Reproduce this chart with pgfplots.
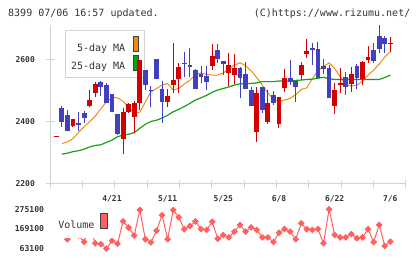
\documentclass[border=0pt]{standalone}
\usepackage{pgfplots}
\usepackage{pgfplotstable}
\pgfplotsset{compat=1.18}
\usepackage{fontspec}
\setmainfont{DejaVu Sans Mono}

\definecolor{upred}{RGB}{212,0,0}
\definecolor{downblue}{RGB}{64,64,192}
\definecolor{maorange}{RGB}{240,140,16}
\definecolor{magreen}{RGB}{20,160,20}
\definecolor{volred}{RGB}{255,96,96}
\definecolor{axisgray}{RGB}{211,211,211}
\definecolor{txt}{RGB}{51,51,51}

% daily candles: index, open, high, low, close
\pgfplotstableread{
i o h l c
0 2352 2355 2352 2355
3 2388 2410 2382 2408
6 2450 2502 2446 2470
7 2493 2528 2478 2520
12 2346 2445 2296 2431
13 2431 2460 2428 2457
14 2416 2466 2363 2461
15 2459 2598 2437 2598
20 2464 2505 2448 2482
21 2518 2653 2493 2534
22 2537 2589 2493 2575
28 2579 2651 2566 2611
31 2557 2620 2514 2582
32 2550 2617 2520 2574
36 2368 2511 2336 2492
38 2400 2502 2394 2460
40 2394 2480 2381 2479
41 2509 2569 2496 2540
44 2550 2591 2534 2582
45 2618 2665 2605 2627
50 2451 2524 2426 2502
51 2519 2572 2492 2524
53 2521 2575 2495 2553
55 2537 2595 2518 2591
56 2598 2643 2588 2607
60 2649 2672 2625 2652
}\upcandles

\pgfplotstableread{
i o h l c
1 2445 2450 2384 2400
2 2421 2437 2371 2371
4 2396 2432 2370 2389
5 2428 2435 2395 2412
8 2527 2530 2482 2513
9 2518 2525 2460 2461
10 2489 2490 2430 2432
11 2425 2425 2358 2360
16 2566 2566 2502 2519
17 2502 2514 2448 2498
18 2601 2601 2538 2538
19 2505 2530 2397 2464
23 2588 2624 2544 2586
24 2582 2636 2544 2575
25 2566 2568 2504 2506
26 2553 2579 2525 2543
27 2547 2579 2502 2527
29 2630 2649 2589 2602
30 2595 2595 2550 2586
33 2572 2575 2477 2541
34 2553 2591 2504 2506
35 2502 2511 2450 2451
37 2511 2512 2429 2439
39 2486 2498 2455 2460
42 2540 2598 2518 2528
43 2530 2531 2463 2511
46 2636 2652 2582 2630
47 2633 2656 2540 2541
48 2579 2601 2553 2570
49 2572 2582 2476 2477
52 2543 2559 2486 2512
54 2579 2585 2505 2540
57 2630 2652 2588 2595
58 2675 2710 2620 2633
59 2668 2675 2620 2649
}\downcandles

\pgfplotstableread{
i v
1 2330
2 2335
3 2346
4 2366
5 2384
6 2400
7 2418
8 2442
9 2464
10 2478
11 2477
12 2466
13 2446
14 2427
15 2431
16 2464
17 2496
18 2507
19 2518
20 2523
21 2502
22 2507
23 2521
24 2534
25 2552
26 2557
27 2552
28 2550
29 2550
30 2557
31 2571
32 2582
33 2590
34 2580
35 2564
36 2542
37 2518
38 2493
39 2473
40 2464
41 2470
42 2475
43 2487
44 2504
45 2509
46 2539
47 2564
48 2578
49 2589
50 2571
51 2544
52 2521
53 2514
54 2518
55 2530
56 2550
57 2566
58 2585
59 2608
60 2625
}\mafive

\pgfplotstableread{
i v
1 2296
2 2299
3 2304
4 2307
5 2312
6 2319
7 2324
8 2326
9 2334
10 2341
11 2352
12 2357
13 2360
14 2365
15 2379
16 2392
17 2401
18 2405
19 2412
20 2421
21 2432
22 2440
23 2449
24 2459
25 2470
26 2477
27 2485
28 2495
29 2502
30 2507
31 2512
32 2518
33 2522
34 2523
35 2523
36 2525
37 2529
38 2529
39 2529
40 2531
41 2531
42 2531
43 2533
44 2534
45 2536
46 2537
47 2540
48 2543
49 2538
50 2536
51 2536
52 2536
53 2536
54 2536
55 2536
56 2536
57 2536
58 2536
59 2542
60 2550
}\matwentyfive

\pgfplotstableread{
i v
0 150000
1 205000
2 113000
3 185000
4 134000
5 100000
6 190000
7 92000
8 88000
9 63100
10 106000
11 90000
12 210000
13 177000
14 134000
15 272000
16 114000
17 97000
18 160000
19 244000
20 114000
21 271000
22 232000
23 168000
24 185000
25 210000
26 169000
27 164000
28 208000
29 117000
30 137000
31 124000
32 155000
33 191000
34 155000
35 178000
36 164000
37 124000
38 124000
39 99000
40 149000
41 169000
42 155000
43 114000
44 200000
45 168000
46 164000
47 169000
48 92000
49 275100
50 137000
51 124000
52 124000
53 142000
54 119000
55 124000
56 168000
57 99000
58 191000
59 78000
60 101000
}\volume

\pgfplotsset{
  chartframe/.style={
    scale only axis, anchor=south west,
    width=355.7bp, xmin=-1.13, xmax=62.76,
  },
  wick/.style={draw=none, mark=none, forget plot,
    error bars/.cd, y dir=plus, y explicit, error mark=none,
    error bar style={draw=#1, line width=1bp}},
  body/.style={draw=none, mark=none, forget plot,
    error bars/.cd, y dir=plus, y explicit, error mark=none,
    error bar style={draw=#1, line width=4.8bp}},
}

\begin{document}
\begin{tikzpicture}
\path[use as bounding box] (0bp,0bp) rectangle (420bp,259bp);

\node[anchor=base west, inner sep=0pt, text=txt, font=\fontsize{10bp}{12bp}\selectfont] at (8bp,242.3bp) {8399 07/06 16:57 updated.};
\node[anchor=base east, inner sep=0pt, text=txt, font=\fontsize{10bp}{12bp}\selectfont] at (410.5bp,242.3bp) {(C)https://www.rizumu.net/};

% moving-average key, set beneath the price panel
\begin{axis}[chartframe, at={(50bp,75bp)}, height=159bp, hide axis,
  ymin=0, ymax=1,
  legend style={at={(0.0422,0.9686)}, anchor=north west,
    draw=axisgray, line width=1bp, fill=white, text=txt,
    font=\fontsize{10bp}{12bp}\selectfont,
    inner xsep=5.5bp, inner ysep=6bp, row sep=1.7bp,
    /tikz/column sep=7.5bp, nodes={inner sep=0pt}},
  legend cell align=right, legend plot pos=right]
\addlegendimage{legend image code/.code={\draw[black!75, line width=0.8bp, fill=maorange] (0bp,-3.5bp) rectangle (5.7bp,11.5bp);}}
\addlegendentry{5-day MA}
\addlegendimage{legend image code/.code={\draw[black!75, line width=0.8bp, fill=magreen] (0bp,-3.5bp) rectangle (5.7bp,11.5bp);}}
\addlegendentry{25-day MA}
\end{axis}

% price panel
\begin{axis}[chartframe, at={(50bp,75bp)}, height=159bp,
  ymin=2200, ymax=2711,
  axis x line*=bottom, axis y line*=left,
  axis line style={draw=axisgray, line width=1bp},
  every tick/.style={draw=axisgray, line width=1bp},
  tick align=center, major tick length=8.5bp,
  xtick={-1.13,4.68,10.49,16.30,22.11,27.92,33.73,39.54,45.35,51.16,56.97,62.76},
  xticklabels={},
  extra x ticks={10,20,30,40,50,60},
  extra x tick labels={4/21,5/11,5/25,6/8,6/22,7/6},
  extra x tick style={major tick length=0pt},
  ytick={2200,2400,2600}, yticklabels={2200,2400,2600},
  /pgf/number format/assume math mode=true,
  tick label style={text=txt, font=\bfseries\fontsize{8bp}{10bp}\selectfont},
  xticklabel style={anchor=north, inner sep=0pt, yshift=-11bp},
  yticklabel style={anchor=east, inner sep=0pt, xshift=-10.7bp},
]
\addplot[maorange, line width=1bp] table[x=i, y=v] {\mafive};
\addplot[magreen, line width=1.2bp] table[x=i, y=v] {\matwentyfive};

\addplot[wick=upred] table[x=i, y=l, y error plus expr=\thisrow{h}-\thisrow{l}] {\upcandles};
\addplot[wick=downblue] table[x=i, y=l, y error plus expr=\thisrow{h}-\thisrow{l}] {\downcandles};
\addplot[body=upred] table[x=i, y=o, y error plus expr=\thisrow{c}-\thisrow{o}] {\upcandles};
\addplot[body=downblue] table[x=i, y=c, y error plus expr=\thisrow{o}-\thisrow{c}] {\downcandles};
\end{axis}

% volume panel
\begin{axis}[chartframe, at={(50bp,7bp)}, height=47bp,
  ymin=45330, ymax=298240,
  axis line style={draw=none},
  major tick length=0pt, xtick=\empty,
  ytick={63100,169100,275100}, yticklabels={63100,169100,275100},
  scaled y ticks=false,
  /pgf/number format/assume math mode=true,
  yticklabel style={text=txt, font=\bfseries\fontsize{8.1bp}{10bp}\selectfont, anchor=east, inner sep=0pt, xshift=-5.7bp},
  legend style={at={(0.006,1)}, anchor=north west,
    draw=none, fill=white, text=txt,
    font=\fontsize{10bp}{12bp}\selectfont,
    inner xsep=6bp, inner ysep=8.3bp,
    /tikz/column sep=6bp, nodes={inner sep=0pt}},
  legend plot pos=right]
\addplot[volred, line width=1bp, mark=square*, mark size=1.9bp,
  mark options={rotate=45, solid}, forget plot] table[x=i, y=v] {\volume};
\addlegendimage{legend image code/.code={\draw[black!75, line width=0.8bp, fill=volred] (0bp,-3.5bp) rectangle (6.4bp,11.5bp);}}
\addlegendentry{Volume}
\end{axis}
\end{tikzpicture}
\end{document}
